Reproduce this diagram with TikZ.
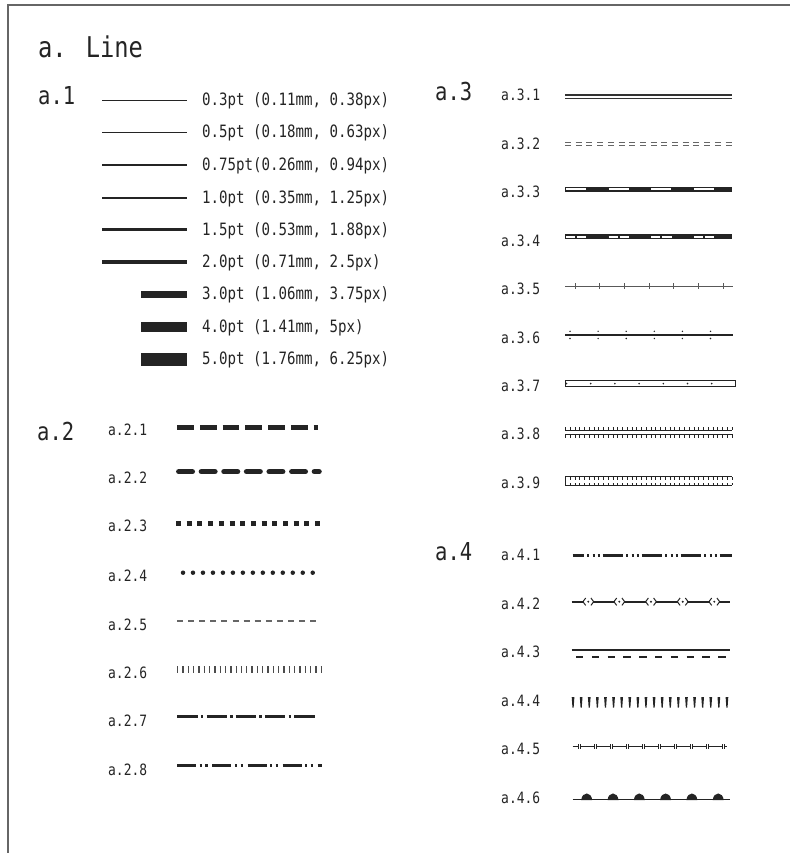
\documentclass[tikz,border=0pt]{standalone}
\usepackage{fontspec}
\setmainfont{DejaVu Sans Mono}[FakeStretch=0.83]
\definecolor{ink}{HTML}{242424}
\definecolor{frame}{HTML}{666666}
\begin{document}
\begin{tikzpicture}[x=1pt,y=-1pt,line cap=butt,
  lbl/.style={anchor=base west,inner sep=0pt,font=\fontsize{15.6}{18}\selectfont,text=ink},
  head/.style={anchor=base west,inner sep=0pt,font=\fontsize{24.7}{28}\selectfont,text=ink},
  ttl/.style={anchor=base west,inner sep=0pt,font=\fontsize{28.6}{32}\selectfont,text=ink},
  val/.style={anchor=base west,inner sep=0pt,font=\fontsize{17}{20}\selectfont,text=ink},
  ln/.style={draw=ink}]
\useasboundingbox (0,0) rectangle (790,853);
% frame
\draw[frame,line width=2] (8,853) -- (8,5) -- (790,5);
% title
\node[ttl] (title) at (38,58) {a. Line};
% ---------------- a.1
\node[head] (h1) at (38,105) {a.1};
\draw[ln,line width=0.8] (102,100) -- (186.5,100);
\node[val] (v1) at (202,105.5) {0.3pt (0.11mm, 0.38px)};
\draw[ln,line width=1.0] (102,132.5) -- (186.5,132.5);
\node[val] (v2) at (202,138) {0.5pt (0.18mm, 0.63px)};
\draw[ln,line width=1.4] (102,165) -- (186.5,165);
\node[val] (v3) at (202,170.5) {0.75pt(0.26mm, 0.94px)};
\draw[ln,line width=2.0] (102,197.5) -- (186.5,197.5);
\node[val] (v4) at (202,203) {1.0pt (0.35mm, 1.25px)};
\draw[ln,line width=3.6] (102,229.5) -- (186.5,229.5);
\node[val] (v5) at (202,235) {1.5pt (0.53mm, 1.88px)};
\draw[ln,line width=3.8] (102,262) -- (186.5,262);
\node[val] (v6) at (202,267.5) {2.0pt (0.71mm, 2.5px)};
\fill[ink] (141,290.6) rectangle (186.5,298);
\node[val] (v7) at (202,299.8) {3.0pt (1.06mm, 3.75px)};
\fill[ink] (141,321.6) rectangle (186.5,332);
\node[val] (v8) at (202,332.3) {4.0pt (1.41mm, 5px)};
\fill[ink] (141,353) rectangle (186.5,365.5);
\node[val] (v9) at (202,364.7) {5.0pt (1.76mm, 6.25px)};
% ---------------- a.2
\node[head] (h2) at (37,440) {a.2};
\node[lbl] (l21) at (108,435.7) {a.2.1};
\draw[ln,line width=4.5,dash pattern=on 16.7 off 6] (177.3,427.3) -- (318.3,427.3);
\node[lbl] (l22) at (108,483.3) {a.2.2};
\draw[ln,line width=5.5,line cap=round,dash pattern=on 13.5 off 9.1] (178.8,471.7) -- (319,471.7);
\node[lbl] (l23) at (108,531.7) {a.2.3};
\draw[ln,line width=5,dash pattern=on 5 off 5.7] (176,523) -- (320.1,523);
\node[lbl] (l24) at (108,581.7) {a.2.4};
\draw[ln,line width=4.5,line cap=round,dash pattern=on 0 off 9.98] (183,572.7) -- (313,572.7);
\node[lbl] (l25) at (108,630) {a.2.5};
\draw[black!60,line width=1.2,dash pattern=on 6 off 5.1] (177,621) -- (316.7,621);
\node[lbl] (l26) at (108,678.3) {a.2.6};
\draw[black!70,line width=7,dash pattern=on 1.3 off 4.02] (177,669) -- (322,669);
\node[lbl] (l27) at (108,726.7) {a.2.7};
\draw[ln,line width=3,dash pattern=on 20.5 off 3.2 on 2.3 off 3.2] (177.3,716.7) -- (316.7,716.7);
\node[lbl] (l28) at (108,775) {a.2.8};
\draw[ln,line width=3,dash pattern=on 19 off 3.4 on 2.3 off 3.4 on 2.3 off 4.7] (177.3,765) -- (322,765);
% ---------------- a.3
\node[head] (h3) at (435,100.7) {a.3};
\node[lbl] (l31) at (501,100.8) {a.3.1};
\draw[black!80,line width=1.1,double=white,double distance=2.2] (565,96.7) -- (732,96.7);
\node[lbl] (l32) at (501,149.2) {a.3.2};
\draw[black!60,line width=1,double=white,double distance=2.2,dash pattern=on 6 off 4.7] (565,144) -- (732,144);
\node[lbl] (l33) at (501,197.7) {a.3.3};
\draw[ln,line width=5] (565,189) -- (732,189);
\draw[white,line width=1.6,dash pattern=on 20 off 22.7] (566,189) -- (731,189);
\node[lbl] (l34) at (501,246.1) {a.3.4};
\draw[ln,line width=5] (565,236.7) -- (732,236.7);
\draw[white,line width=1.6,dash pattern=on 9 off 1.8 on 9.5 off 22.4] (566,236.7) -- (731,236.7);
\node[lbl] (l35) at (501,294.6) {a.3.5};
\draw[black!65,line width=1] (565,286) -- (733,286);
\foreach \k in {0,...,6} {\draw[black!65,line width=0.9] ({575+24.7*\k},283) -- ({575+24.7*\k},289);}
\node[lbl] (l36) at (501,343) {a.3.6};
\draw[ln,line width=1.1] (565,335) -- (733,335);
\foreach \k in {0,...,5} {\fill[ink] ({570+28.1*\k},331.3) circle (0.8pt); \fill[ink] ({570+28.1*\k},338.5) circle (0.8pt);}
\node[lbl] (l37) at (501,391.5) {a.3.7};
\draw[ln,line width=1] (565,380.7) rectangle (735,386.5);
\foreach \k in {0,...,6} {\fill[ink] ({566.5+24.2*\k},383.6) circle (0.9pt);}
\node[lbl] (l38) at (501,439.9) {a.3.8};
\draw[ln,line width=1] (565,430.3) -- (732,430.3);
\draw[ln,line width=1] (565,434.3) -- (732,434.3);
\draw[ln,line width=3.3,dash pattern=on 1 off 3.76] (565,428.6) -- (732,428.6);
\draw[ln,line width=3.3,dash pattern=on 1 off 3.76] (565,436) -- (732,436);
\node[lbl] (l39) at (501,488.3) {a.3.9};
\draw[ln,line width=1] (565,476.7) -- (732,476.7);
\draw[ln,line width=1] (565,485.7) -- (732,485.7);
\draw[ln,line width=1] (565.5,476.7) -- (565.5,485.7);
\draw[ln,line width=2.6,dash pattern=on 1 off 3.76] (565,478.4) -- (732,478.4);
\draw[ln,line width=2.6,dash pattern=on 1 off 3.76] (565,484) -- (732,484);
% ---------------- a.4
\node[head] (h4) at (435,560.7) {a.4};
\node[lbl] (l41) at (501,560.7) {a.4.1};
\draw[ln,line width=3,dash pattern=on 20.6 off 3.1 on 2 off 3.1 on 2 off 3.1 on 2 off 3.1,dash phase=9] (572.7,555) -- (731.7,555);
\node[lbl] (l42) at (501,609.2) {a.4.2};
\draw[ln,line width=2] (571.7,601.7) -- (730,601.7);
\foreach \c in {588.3,619.3,651,682.7,714.3} {
  \fill[white] ({\c-4.6},599.5) rectangle ({\c+4.6},604);
  \draw[ln,line width=1] ({\c-2.6},598) -- ({\c-5.4},601.7) -- ({\c-2.6},605.4);
  \draw[ln,line width=1] ({\c+2.6},598) -- ({\c+5.4},601.7) -- ({\c+2.6},605.4);
  \fill[ink] (\c,601.7) circle (1.1pt);
}
\node[lbl] (l43) at (501,657.7) {a.4.3};
\draw[ln,line width=2] (571.7,650) -- (730,650);
\draw[ln,line width=2,dash pattern=on 7.3 off 8.5] (576,657) -- (725.7,657);
\node[lbl] (l44) at (501,706.2) {a.4.4};
\foreach \k in {0,...,19} {\fill[ink] ({571.7+8.1*\k},697) -- ++(2.7,0) -- ++(-0.75,10.5) -- ++(-1.2,0) -- cycle;}
\node[lbl] (l45) at (501,754.7) {a.4.5};
\draw[ln,line width=1.2,dash pattern=on 13.5 off 2.5,dash phase=7.9] (572.7,746.7) -- (727,746.7);
\foreach \k in {0,...,9} {
  \draw[ln,line width=1] ({578.3+16*\k},744.2) -- ({578.3+16*\k},749.2);
  \draw[ln,line width=1] ({580.8+16*\k},744.2) -- ({580.8+16*\k},749.2);
}
\node[lbl] (l46) at (501,803.2) {a.4.6};
\draw[ln,line width=1.5] (572.7,799.3) -- (730,799.3);
\foreach \k in {0,...,5} {\fill[ink] ({586.7+26.3*\k-5.5},800) .. controls ({586.7+26.3*\k-4.5},791.3) and ({586.7+26.3*\k+4.5},791.3) .. ({586.7+26.3*\k+5.5},800) -- cycle;}
\end{tikzpicture}
\end{document}
